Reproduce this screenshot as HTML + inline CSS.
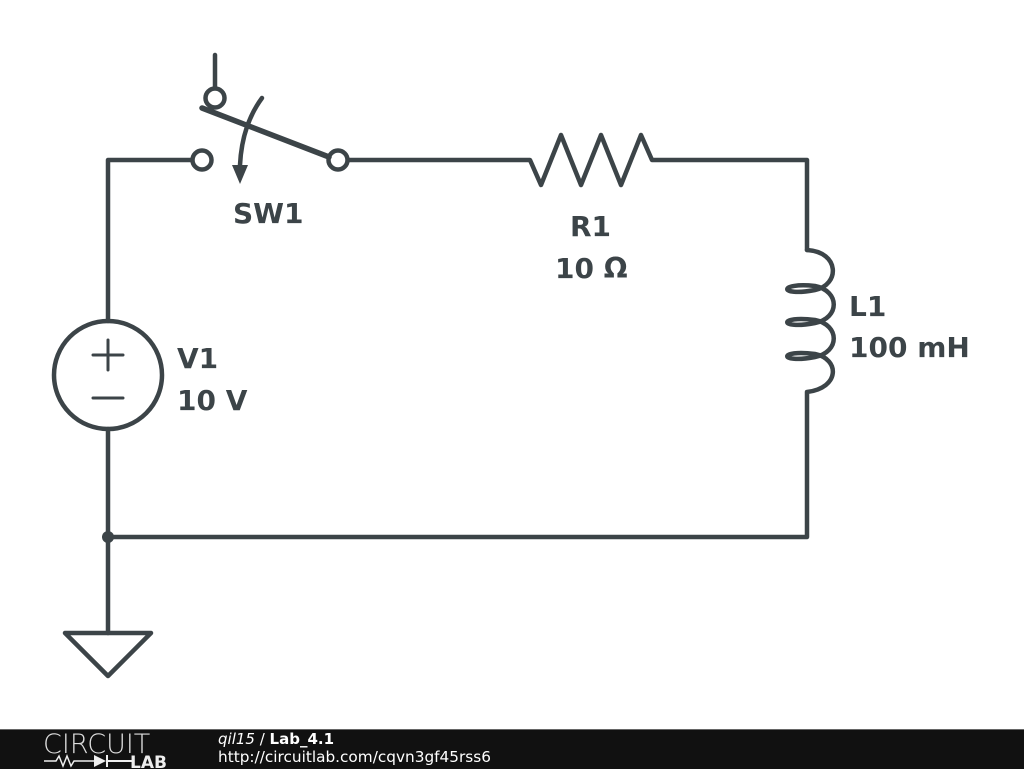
<!DOCTYPE html>
<html><head><meta charset="utf-8"><style>
body{margin:0;width:1024px;height:768px;background:#fff;overflow:hidden;position:relative;font-family:"DejaVu Sans","Liberation Sans",sans-serif}
svg{position:absolute;left:0;top:0}
.f{position:absolute;left:0;top:729px;width:1024px;height:39px;background:#111;border-top:1px solid #666}
</style></head><body>
<svg width="1024" height="730" viewBox="0 0 1024 730">
<g fill="none" stroke="#3c4448" stroke-width="4.5" stroke-linejoin="round" stroke-linecap="round">
<path d="M215 55V88"/>
<circle cx="215" cy="98" r="9.5"/>
<path d="M202 108L329 157" stroke-width="5.5"/>
<circle cx="202" cy="160" r="9.5"/>
<circle cx="338" cy="160" r="9.5"/>
<path d="M192 160H108V321"/>
<path d="M262 98Q242 125 240 165"/>
<path d="M348 160H530L541 185L561 135L581 185L601 135L621 185L641 135L652 160H807V250"/>
<path d="M807 250C840 252 840 285 815 290C778 297 778 282 815 286C840 291 840 318 815 323C778 330 778 315 815 320C840 325 840 352 815 357C778 364 778 349 815 354C840 359 840 388 807 392V537H108"/>
<circle cx="108" cy="375" r="54"/>
<path d="M108 429V633"/>
<path d="M65 633H151L108 676Z"/>
<path d="M93 355H123M108 340V370M93 398H123" stroke-width="3"/>
</g>
<path d="M232 165L248 165L240 184Z" fill="#3c4448"/>
<circle cx="108" cy="537" r="6" fill="#3c4448"/>
<g fill="#3c4448" font-family="DejaVu Sans,sans-serif" font-weight="bold" font-size="28">
<text x="233" y="223">SW1</text>
<text x="570" y="236">R1</text>
<text x="555" y="278">10 Ω</text>
<text x="849" y="316">L1</text>
<text x="849" y="357">100 mH</text>
<text x="177" y="368">V1</text>
<text x="177" y="410">10 V</text>
</g>
</svg>
<div class="f">
<div style="position:absolute;left:43px;top:-1px;color:#ddd;font-family:'DejaVu Sans',sans-serif;font-size:27px;letter-spacing:0px;font-weight:300">CIRCUIT</div>
<div style="position:absolute;left:44px;top:22px;width:140px">
<svg width="140" height="16" style="position:static"><path d="M0 9H12L15 4L19 14L23 4L27 14L30 9H50" stroke="#eee" fill="none" stroke-width="1.5"/><path d="M50 3V15L62 9Z" fill="#eee"/><path d="M63 3V15M63 9H88" stroke="#eee" stroke-width="2"/><text x="86" y="16" fill="#eee" font-family="DejaVu Sans,sans-serif" font-weight="bold" font-size="17">LAB</text></svg></div>
<div style="position:absolute;left:218px;top:0px;color:#fff;font-size:15px"><i>qil15</i> / <b>Lab_4.1</b></div>
<div style="position:absolute;left:218px;top:18px;color:#fff;font-size:15.3px">http://circuitlab.com/cqvn3gf45rss6</div>
</div>
</body></html>
